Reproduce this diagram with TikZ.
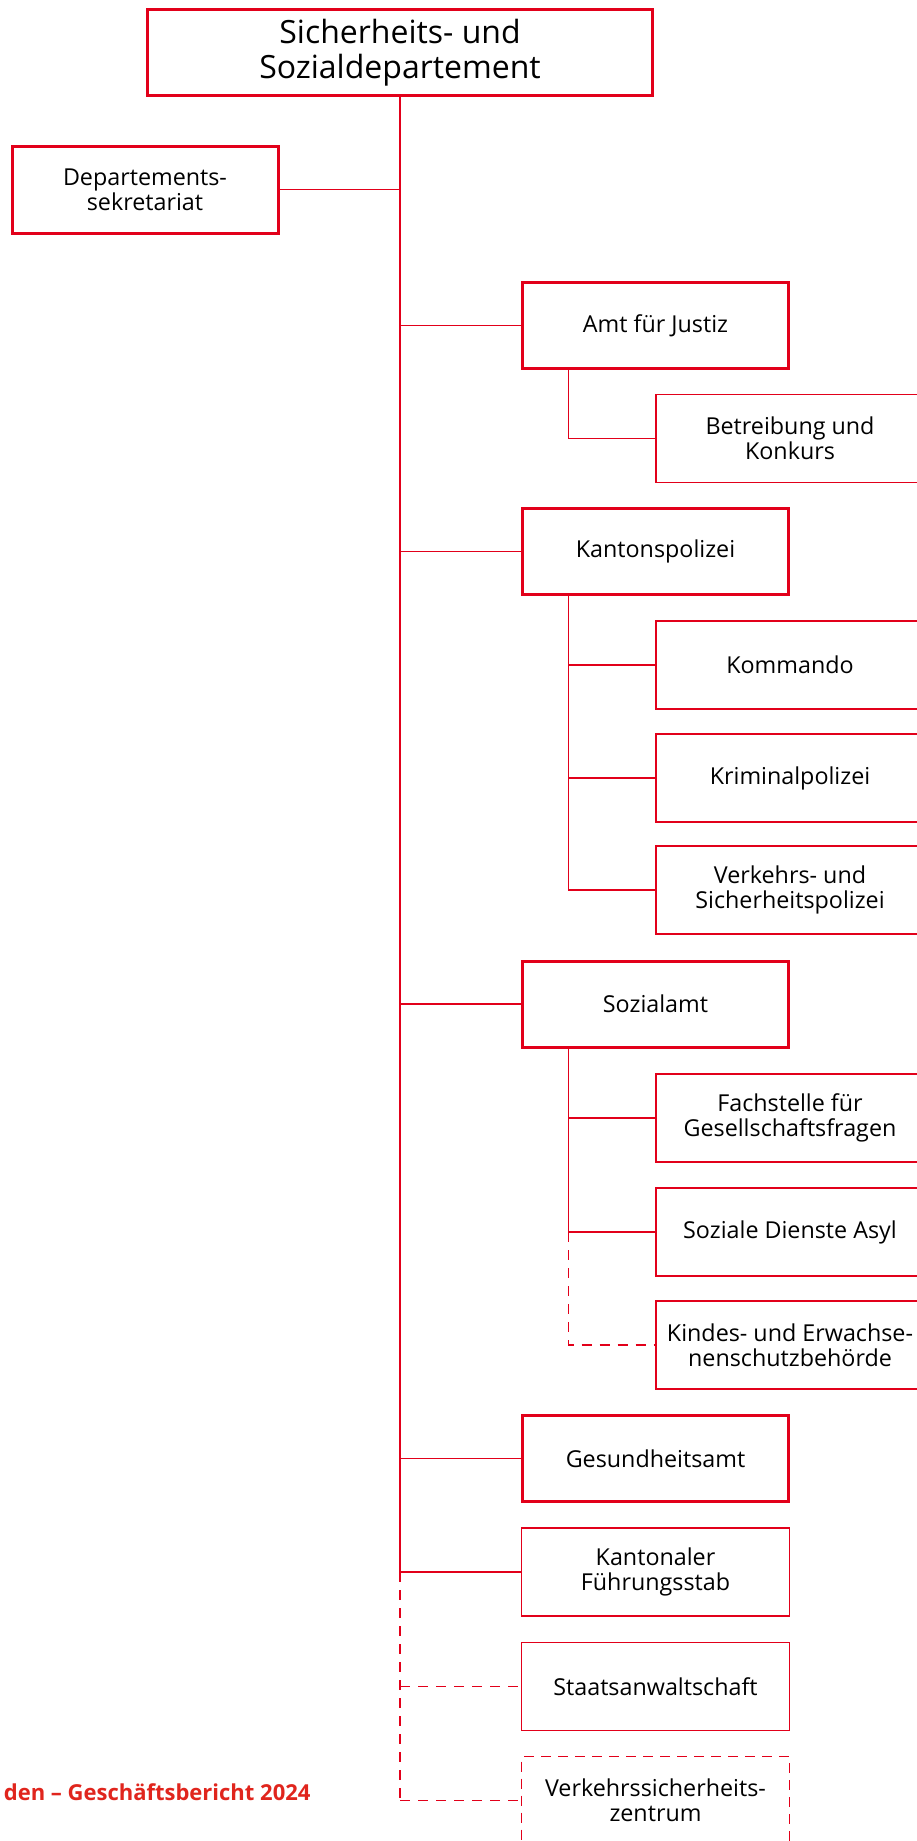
\documentclass[tikz,border=0pt]{standalone}
\usepackage{fontspec}
\setmainfont{Open Sans}
\definecolor{orgred}{RGB}{226,0,26}
\definecolor{textred}{RGB}{224,37,29}

\begin{document}
\begin{tikzpicture}[
    x=1pt, y=-1pt,
    font=\fontsize{23.3}{25}\selectfont,
    unit/.style={
        draw=orgred,
        line width=3pt,
        align=center,
        inner sep=0pt,
        outer sep=0pt,
        minimum width=266pt,
        minimum height=86pt
    },
    subunit/.style={
        draw=orgred,
        line width=1.4pt,
        align=center,
        inner sep=0pt,
        outer sep=0pt,
        minimum width=268pt,
        minimum height=88pt
    },
    extunit/.style={
        subunit,
        dash pattern=on 10pt off 7pt
    },
    conn/.style={draw=orgred, line width=1.1pt},
    extconn/.style={conn, dash pattern=on 10pt off 8pt}
]

\useasboundingbox (0,0) rectangle (917,1841);
\clip (0,0) rectangle (917,1841);

\node[unit, minimum width=505pt, font=\fontsize{32}{35}\selectfont] (dep) at (400,52.5)
    {Sicherheits- und\\Sozialdepartement};
\node[unit, minimum height=87pt] (sekr) at (145,189.5) {Departements-\\sekretariat};

% Aemter
\node[unit] (justiz) at (655.5,325.5) {Amt für Justiz};
\node[unit] (kapo) at (655.5,551.5) {Kantonspolizei};
\node[unit] (sozamt) at (655.5,1004) {Sozialamt};
\node[unit] (gesund) at (655.5,1458.5) {Gesundheitsamt};
\node[subunit] (kfs) at (655.5,1572) {Kantonaler\\Führungsstab};
\node[subunit] (staw) at (655.5,1686.5) {Staatsanwaltschaft};
\node[extunit] (vsz) at (655.5,1800.5) {Verkehrssicherheits-\\zentrum};

% Abteilungen
\node[subunit] (betr) at (790,438.5) {Betreibung und\\Konkurs};
\node[subunit] (kdo) at (790,665) {Kommando};
\node[subunit] (krim) at (790,778) {Kriminalpolizei};
\node[subunit] (vsp) at (790,890) {Verkehrs- und\\Sicherheitspolizei};
\node[subunit] (fach) at (790,1118) {Fachstelle für\\Gesellschaftsfragen};
\node[subunit] (asyl) at (790,1232) {Soziale Dienste Asyl};
\node[subunit] (kesb) at (790,1345) {Kindes- und Erwachse-\\nenschutzbehörde};

\node[anchor=base east, text=textred, font=\fontsize{22}{25}\selectfont\bfseries] (jb) at (314,1800)
    {den – Geschäftsbericht 2024};

\coordinate (jfork) at ([xshift=46pt]justiz.south west);
\coordinate (kfork) at ([xshift=46pt]kapo.south west);
\coordinate (sfork) at ([xshift=46pt]sozamt.south west);

\draw[conn] (dep.south) -- (dep.south |- kfs.west);
\draw[extconn] (dep.south |- kfs.west) -- (dep.south |- vsz.west);

\draw[conn] (sekr.east) -- (dep.south |- sekr.east);
\foreach \n in {justiz,kapo,sozamt,gesund,kfs}
    \draw[conn] (dep.south |- \n.west) -- (\n.west);
\foreach \n in {staw,vsz}
    \draw[extconn] (dep.south |- \n.west) -- (\n.west);

\draw[conn] (jfork) |- (betr.west);
\draw[conn] (kfork) |- (vsp.west);
\draw[conn] (kfork |- kdo.west) -- (kdo.west);
\draw[conn] (kfork |- krim.west) -- (krim.west);
\draw[conn] (sfork) |- (asyl.west);
\draw[conn] (sfork |- fach.west) -- (fach.west);
\draw[extconn] (sfork |- asyl.west) |- (kesb.west);

\end{tikzpicture}
\end{document}
